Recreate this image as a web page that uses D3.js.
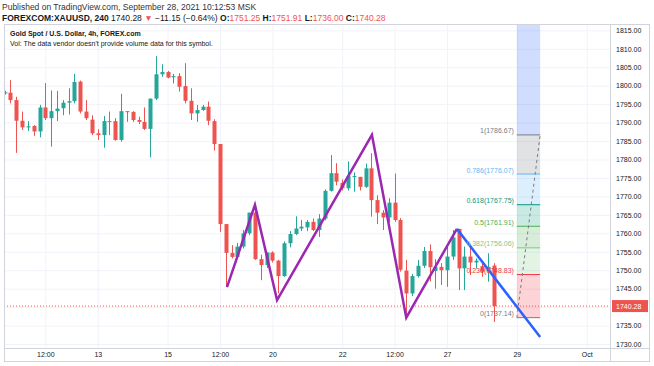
<!DOCTYPE html>
<html><head><meta charset="utf-8">
<script src="https://cdn.jsdelivr.net/npm/d3@7"></script>
<style>
body{margin:0;background:#fff;}
svg{display:block;font-family:"Liberation Sans",Arial,sans-serif;}
</style></head>
<body><svg id="c" width="654" height="366"></svg>
<script>
// ---- data ----
const opens = [1798.0,1798.1,1796.1,1790.5,1788.7,1789.1,1787.6,1794.1,1791.2,1793.1,
1793.9,1795.4,1795.8,1801.1,1793.0,1790.8,1787.1,1786.6,1790.4,1790.4,
1785.3,1793.1,1792.9,1790.7,1790.2,1788.3,1796.5,1803.1,1803.7,1802.3,
1802.6,1799.9,1795.9,1792.5,1793.4,1794.3,1790.4,1784.2,1762.5,1754.7,
1753.6,1756.4,1760.0,1765.6,1753.0,1751.4,1754.8,1752.6,1748.4,1757.3,
1759.8,1761.3,1761.6,1763.1,1760.9,1764.0,1771.5,1776.3,1773.7,1772.2,
1775.3,1775.3,1772.6,1777.6,1769.0,1765.6,1764.3,1768.3,1763.6,1749.9,
1743.7,1748.4,1751.2,1755.2,1749.8,1750.9,1750.0,1753.7,1761.2,1750.5,
1753.7,1752.1,1751.1,1749.6,1751.25];
const closes = [1798.2,1796.1,1790.5,1788.7,1789.0,1787.6,1794.1,1791.2,1793.1,1793.8,
1795.4,1795.8,1801.0,1793.0,1791.2,1787.1,1786.6,1790.4,1790.2,1785.3,
1793.1,1792.9,1790.7,1790.2,1788.3,1796.5,1803.1,1803.7,1802.2,1802.6,
1799.7,1795.9,1792.5,1793.4,1794.3,1790.5,1784.2,1762.5,1754.7,1753.6,
1756.4,1760.0,1765.6,1753.0,1751.4,1754.8,1752.6,1748.4,1757.3,1759.8,
1761.3,1761.8,1763.1,1760.9,1764.0,1771.5,1776.3,1774.0,1772.2,1775.5,
1775.5,1772.6,1777.6,1769.0,1765.6,1764.3,1768.3,1763.6,1750.1,1743.7,
1748.4,1751.2,1755.2,1750.8,1750.9,1750.0,1753.7,1758.9,1750.5,1753.7,
1752.1,1752.6,1749.6,1750.9,1740.28];
const highs = [1798.6,1801.5,1797.0,1793.0,1790.4,1789.3,1794.8,1800.7,1798.7,1798.6,
1796.1,1799.3,1803.2,1801.4,1796.1,1792.0,1788.2,1791.8,1793.0,1791.2,
1797.8,1793.1,1793.1,1791.6,1794.1,1796.5,1808.0,1805.8,1804.0,1803.2,
1803.4,1806.1,1799.3,1794.8,1794.8,1795.7,1790.9,1784.2,1762.5,1756.8,
1757.4,1760.9,1765.6,1767.2,1754.2,1754.8,1755.1,1752.8,1757.8,1760.6,
1764.6,1763.6,1763.6,1764.0,1765.2,1771.9,1781.2,1779.0,1774.6,1779.5,
1776.5,1775.3,1778.9,1781.7,1770.3,1766.3,1769.5,1776.2,1764.1,1752.8,
1749.0,1752.8,1756.3,1757.0,1753.0,1751.9,1756.4,1760.9,1761.2,1756.4,
1756.4,1753.2,1752.3,1754.6,1751.91];
const lows = [1797.6,1795.2,1781.8,1788.0,1787.7,1786.4,1786.0,1790.7,1783.5,1790.4,
1792.0,1792.2,1795.2,1792.5,1790.7,1786.6,1785.3,1783.2,1786.6,1785.1,
1784.8,1790.2,1790.2,1789.6,1788.0,1780.6,1796.1,1802.4,1802.0,1800.6,
1798.4,1795.2,1790.7,1790.2,1793.2,1789.3,1782.4,1760.4,1745.5,1753.2,
1753.2,1755.9,1759.5,1752.8,1747.3,1750.6,1752.1,1743.7,1748.2,1756.2,
1759.5,1760.6,1760.6,1760.6,1759.0,1763.5,1771.3,1773.0,1771.6,1771.6,
1771.3,1771.6,1772.3,1764.5,1762.5,1760.9,1763.0,1763.1,1749.6,1737.4,
1743.0,1748.0,1750.6,1747.0,1745.0,1746.0,1745.5,1752.8,1744.6,1744.6,
1748.7,1750.5,1748.2,1746.9,1736.0];

const timeTickIdx = [7,16,28,37,46,58,67,76,88,100];
const timeTickLabels = ["12:00","13","15","12:00","20","22","12:00","27","29","Oct"];
const priceTicks = d3.range(1730, 1816, 5);
const lastPrice = 1740.28;

// harmonic pattern points (candle index, price)
const patternIdx = [38.2, 43.0, 46.8, 63.1, 69.0, 77.7];
const patternPrice = [1745.4, 1767.7, 1741.9, 1786.67, 1737.14, 1761.2];
const projIdx = [77.7, 92.0];
const projPrice = [1761.2, 1731.9];

// fib retracement
const fibIdx = [88, 92];
const fibLow = 1737.14, fibHigh = 1786.67;
const fibLevels = [0, 0.236, 0.382, 0.5, 0.618, 0.786, 1, 1.618];
const fibColors = ["#787b86","#f23645","#81c784","#4caf50","#089981","#64b5f6","#787b86","#2962ff"];

// ---- layout ----
const svg = d3.select("#c");
const L = 4, R = 610, T = 24, B = 348;
const x = d3.scaleLinear().domain([-0.11, 104.0]).range([L, R]);
const y = d3.scaleLinear().domain([1728.92, 1816.72]).range([B, T]);

svg.append("defs").append("clipPath").attr("id","plot")
  .append("rect").attr("x",L).attr("y",T).attr("width",R-L).attr("height",B-T);

// grid
svg.append("g").attr("transform",`translate(${L},0)`)
  .call(d3.axisRight(y).tickValues(priceTicks).tickSize(R-L).tickFormat(""))
  .call(g=>g.select(".domain").remove())
  .call(g=>g.selectAll("line").attr("stroke","#f0f3fa"));
svg.append("g").attr("transform",`translate(0,${T})`)
  .call(d3.axisBottom(x).tickValues(timeTickIdx).tickSize(B-T).tickFormat(""))
  .call(g=>g.select(".domain").remove())
  .call(g=>g.selectAll("line").attr("stroke","#f0f3fa"));

const plot = svg.append("g").attr("clip-path","url(#plot)");

// fib bands
const fp = v => fibLow + v*(fibHigh-fibLow);
for (let k=0;k<fibLevels.length-1;k++){
  const y1 = y(fp(fibLevels[k])), y2 = y(fp(fibLevels[k+1]));
  plot.append("rect").attr("x",x(fibIdx[0])).attr("width",x(fibIdx[1])-x(fibIdx[0]))
    .attr("y",y2).attr("height",y1-y2).attr("fill",fibColors[k+1]).attr("fill-opacity",0.22);
}
fibLevels.forEach((lv,k)=>{
  plot.append("line").attr("x1",x(fibIdx[0])).attr("x2",x(fibIdx[1]))
    .attr("y1",y(fp(lv))).attr("y2",y(fp(lv))).attr("stroke",fibColors[k]).attr("stroke-width",1);
});
plot.append("line").attr("x1",x(fibIdx[0])).attr("y1",y(fibLow))
  .attr("x2",x(fibIdx[1])).attr("y2",y(fibHigh))
  .attr("stroke","#787b86").attr("stroke-width",1).attr("stroke-dasharray","3,3");

// last price line
plot.append("line").attr("x1",L).attr("x2",R).attr("y1",y(lastPrice)).attr("y2",y(lastPrice))
  .attr("stroke","#ef5350").attr("stroke-width",1).attr("stroke-dasharray","1,2");

// candles
const idx = d3.range(opens.length);
const cg = plot.append("g");
cg.selectAll("line.w").data(idx).join("line")
  .attr("x1",i=>Math.round(x(i))+0.5).attr("x2",i=>Math.round(x(i))+0.5)
  .attr("y1",i=>y(highs[i])).attr("y2",i=>y(lows[i]))
  .attr("stroke",i=>closes[i]>=opens[i]?"#26a69a":"#ef5350").attr("stroke-width",1);
cg.selectAll("rect.b").data(idx).join("rect")
  .attr("x",i=>Math.round(x(i))-1.5).attr("width",4)
  .attr("y",i=>y(Math.max(opens[i],closes[i])))
  .attr("height",i=>Math.max(1,Math.abs(y(opens[i])-y(closes[i]))))
  .attr("fill",i=>closes[i]>=opens[i]?"#26a69a":"#ef5350");

// pattern
const line = d3.line().x(d=>x(d[0])).y(d=>y(d[1]));
plot.append("path").datum(patternIdx.map((v,i)=>[v,patternPrice[i]]))
  .attr("d",line).attr("fill","none").attr("stroke","#9c27b0").attr("stroke-width",2.5)
  .attr("stroke-linejoin","miter");
plot.append("path").datum(projIdx.map((v,i)=>[v,projPrice[i]]))
  .attr("d",line).attr("fill","none").attr("stroke","#2962ff").attr("stroke-width",2.5);

// fib labels
fibLevels.forEach((lv,k)=>{
  if (fp(lv) > 1816) return;
  plot.append("text").attr("x",x(fibIdx[0])-3).attr("y",y(fp(lv))-1.5)
    .attr("text-anchor","end").attr("font-size",7).attr("fill",fibColors[k])
    .text(`${lv}(${fp(lv).toFixed(2)})`);
});

// frame
svg.append("rect").attr("x",L+0.5).attr("y",T+0.5).attr("width",650-L-1).attr("height",362-T-1)
  .attr("fill","none").attr("stroke","#d1d4dc");
svg.append("line").attr("x1",L).attr("x2",650).attr("y1",B+0.5).attr("y2",B+0.5).attr("stroke","#d1d4dc");
svg.append("line").attr("x1",R+0.5).attr("x2",R+0.5).attr("y1",T).attr("y2",362).attr("stroke","#d1d4dc");

// price axis
svg.append("g").attr("transform",`translate(${R},0)`)
  .call(d3.axisRight(y).tickValues(priceTicks).tickSize(0).tickPadding(6).tickFormat(d3.format(".2f")))
  .call(g=>g.select(".domain").remove())
  .call(g=>g.selectAll("text").attr("font-size",7).attr("fill","#131722").attr("font-family","Liberation Sans, Arial, sans-serif"));
svg.append("rect").attr("x",R+2).attr("y",y(lastPrice)-6).attr("width",36).attr("height",12).attr("fill","#ef5350");
svg.append("text").attr("x",R+6).attr("y",y(lastPrice)).attr("dy","0.35em").attr("font-size",7)
  .attr("fill","#fff").text(lastPrice.toFixed(2));

// time axis
svg.append("g").attr("transform",`translate(0,${B})`)
  .call(d3.axisBottom(x).tickValues(timeTickIdx).tickSize(0).tickPadding(4)
    .tickFormat((d,i)=>timeTickLabels[i]))
  .call(g=>g.select(".domain").remove())
  .call(g=>g.selectAll("text").attr("font-size",7).attr("fill","#131722").attr("font-family","Liberation Sans, Arial, sans-serif"));

// header
svg.append("text").attr("x",2).attr("y",10).attr("font-size",8.5).attr("fill","#333")
  .text("Published on TradingView.com, September 28, 2021 10:12:53 MSK");
const h2 = svg.append("text").attr("x",2).attr("y",21).attr("font-size",8.5).attr("fill","#131722");
h2.append("tspan").attr("font-weight","bold").text("FOREXCOM:XAUUSD, 240 ");
h2.append("tspan").text("1740.28 ");
h2.append("tspan").attr("fill","#ef5350").text("▼ ");
h2.append("tspan").text("−11.15 (−0.64%) ");
[["O:","1751.25"],["H:","1751.91"],["L:","1736.00"],["C:","1740.28"]].forEach(p=>{
  h2.append("tspan").attr("font-weight","bold").text(p[0]);
  h2.append("tspan").attr("fill","#ef5350").text(p[1]+" ");
});
svg.append("text").attr("x",10).attr("y",36).attr("font-size",7).attr("font-weight","bold").attr("fill","#131722")
  .text("Gold Spot / U.S. Dollar, 4h, FOREX.com");
svg.append("text").attr("x",10).attr("y",46).attr("font-size",7).attr("fill","#131722")
  .text("Vol: The data vendor doesn't provide volume data for this symbol.");
</script></body></html>
